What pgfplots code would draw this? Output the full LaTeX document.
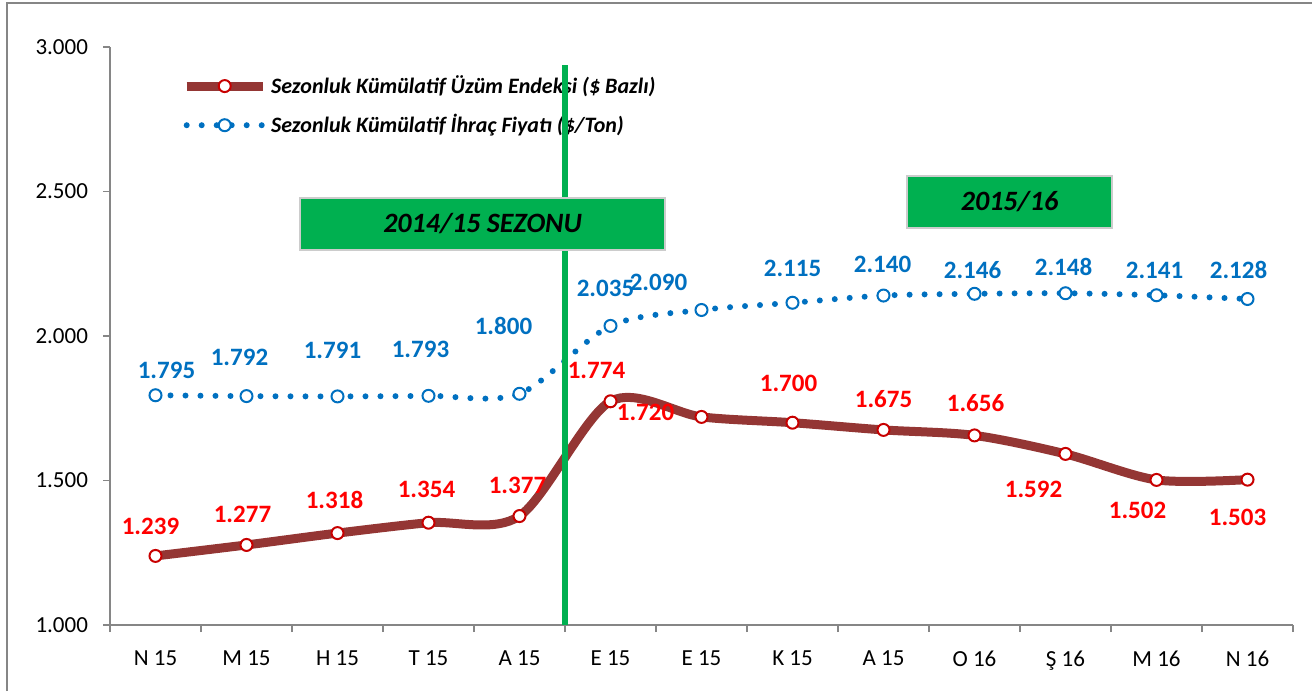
\documentclass[border=0pt]{standalone}
\usepackage{fontspec}
\setmainfont{Carlito}
\usepackage{pgfplots}
\pgfplotsset{compat=1.18}
\usepackage{pgfplotstable}

\definecolor{redline}{RGB}{148,54,52}
\definecolor{redmark}{RGB}{200,0,0}
\definecolor{redlab}{RGB}{255,0,0}
\definecolor{bluel}{RGB}{0,112,192}
\definecolor{sgreen}{RGB}{0,176,80}
\definecolor{axgray}{RGB}{134,134,134}

\pgfplotsset{myleg/.style={legend image code/.code={\draw[##1, mark repeat=2, mark phase=2] plot coordinates {(0pt,0pt) (19pt,0pt) (38pt,0pt)};}}}

\pgfplotstableread{
x y lab dx dy
0 1.239 1.239 -2.5 15
1 1.277 1.277 -2 15.5
2 1.318 1.318 -1.5 16.5
3 1.354 1.354 -1 16.5
4 1.377 1.377 -1 15.5
5 1.774 1.774 -7 15.5
6 1.720 1.720 -28 2.5
7 1.700 1.700 -2 19.5
8 1.675 1.675 0 15.5
9 1.656 1.656 0.5 16
10 1.592 1.592 -16 -17.5
11 1.502 1.502 -9.5 -15
12 1.503 1.503 -5 -19
}\redtab

\pgfplotstableread{
x y lab dx dy
0 1.795 1.795 5.5 12.5
1 1.792 1.792 -3.5 19.5
2 1.791 1.791 -2.5 23
3 1.793 1.793 -4 23
4 1.800 1.800 -8 34
5 2.035 2.035 -2.5 18.5
6 2.090 2.090 -21.5 14
7 2.115 2.115 0 17
8 2.140 2.140 -0.5 15.5
9 2.146 2.146 -1 12
10 2.148 2.148 -1 13
11 2.141 2.141 -1 12.5
12 2.128 2.128 -4.5 14.5
}\bluetab

\begin{document}
\begin{tikzpicture}
\useasboundingbox (0,0) rectangle (656pt,345.5pt);
\draw[axgray, line width=1pt] (3.5pt,0pt) -- (3.5pt,344pt) -- (656pt,344pt);
\begin{axis}[
  at={(55pt,33pt)}, anchor=south west,
  scale only axis, width=591.5pt, height=289pt,
  xmin=-0.5, xmax=12.5, ymin=1, ymax=3,
  clip=false,
  axis x line*=bottom, axis y line*=left,
  axis line style={axgray, line width=0.8pt, -},
  tick style={axgray, line width=0.8pt},
  tick align=outside,
  major tick length=3.5pt, minor tick length=3.5pt,
  xtick={0,...,12},
  xticklabels={N 15, M 15, H 15, T 15, A 15, E 15, E 15, K 15, A 15, O 16, Ş 16, M 16, N 16},
  major x tick style={draw=none},
  minor xtick={-0.5,0.5,...,12.5},
  ytick={1,1.5,2,2.5,3},
  yticklabels={1.000,1.500,2.000,2.500,3.000},
  ticklabel style={font=\fontsize{11.5}{13}\selectfont, text=black},
  xticklabel style={yshift=-6pt},
  yticklabel style={xshift=-4pt},
  legend style={at={(rel axis cs:0.059,0.965)}, anchor=north west, draw=none, fill=none,
    font=\bfseries\itshape\fontsize{11}{13}\selectfont, row sep=5pt,
    cells={anchor=west}, inner xsep=1pt,
    /tikz/every even column/.append style={column sep=1pt}},
]
\addplot[redline, line width=4.5pt, smooth, mark=*, mark size=3pt,
  mark options={solid, fill=white, draw=redmark, line width=1pt},
  myleg,
  visualization depends on={\thisrow{dx}\as\dx},
  visualization depends on={\thisrow{dy}\as\dy},
  nodes near coords, point meta=explicit symbolic,
  every node near coord/.append style={anchor=center, xshift=\dx pt, yshift=\dy pt,
    font=\bfseries\fontsize{12.5}{14}\selectfont, text=redlab}
] table[x=x, y=y, meta=lab] {\redtab};
\addlegendentry{Sezonluk Kümülatif Üzüm Endeksi (\$ Bazlı)}
\addplot[bluel, line width=3pt, line cap=round, dash pattern=on 0pt off 7.5pt, smooth, mark=*, mark size=3pt,
  mark options={solid, fill=white, draw=bluel, line width=1pt},
  myleg,
  visualization depends on={\thisrow{dx}\as\dx},
  visualization depends on={\thisrow{dy}\as\dy},
  nodes near coords, point meta=explicit symbolic,
  every node near coord/.append style={anchor=center, xshift=\dx pt, yshift=\dy pt,
    font=\bfseries\fontsize{12.5}{14}\selectfont, text=bluel}
] table[x=x, y=y, meta=lab] {\bluetab};
\addlegendentry{Sezonluk Kümülatif İhraç Fiyatı (\$/Ton)}
\coordinate (b1a) at (axis cs:1.588,2.298);
\coordinate (b1b) at (axis cs:5.599,2.478);
\coordinate (b1c) at (axis cs:3.594,2.388);
\coordinate (b2a) at (axis cs:8.258,2.374);
\coordinate (b2b) at (axis cs:10.511,2.554);
\coordinate (b2c) at (axis cs:9.385,2.464);
\coordinate (gt) at (axis cs:4.5,2.938);
\coordinate (gb) at (axis cs:4.5,1);
\end{axis}
\draw[sgreen, line width=3pt] (gb) -- (gt);
\draw[fill=sgreen, draw=black!20, line width=1pt] (b1a) rectangle (b1b);
\node[font=\bfseries\itshape\fontsize{14}{16}\selectfont] at (b1c) {2014/15 SEZONU};
\draw[fill=sgreen, draw=black!20, line width=1pt] (b2a) rectangle (b2b);
\node[font=\bfseries\itshape\fontsize{14}{16}\selectfont] at (b2c) {2015/16};
\end{tikzpicture}
\end{document}
